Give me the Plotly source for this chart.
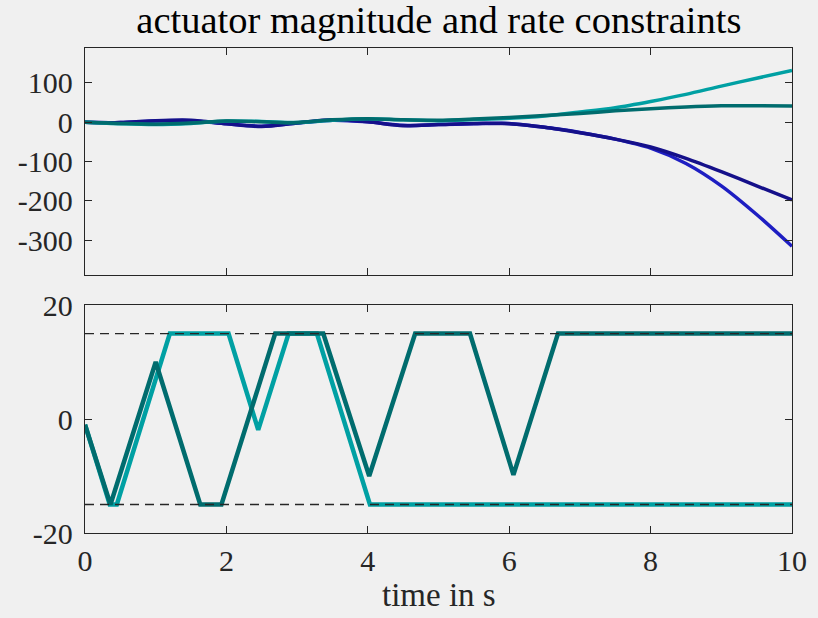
import plotly.graph_objects as go

# ---- upper panel: actuator magnitudes (sampled every 0.5 s) ----
t_mag = [0.0, 0.5, 1.0, 1.5, 2.0, 2.5, 3.0, 3.5, 4.0, 4.5, 5.0,
         5.5, 6.0, 6.5, 7.0, 7.5, 8.0, 8.5, 9.0, 9.5, 10.0]
u_navy = [0, -1, 4, 5, -4, -11, -2, 6, 1, -9, -6,
          -3, -4, -13, -27, -43, -63, -92, -126, -162, -198]
u_blue = [0, -1, 3, 4, -4, -10, -2, 5, 1, -8, -6,
          -4, -3, -13, -26, -43, -66, -105, -162, -235, -316]
u_dteal = [0, -3, -5, -2, 3, 1, -1, 6, 9, 6, 5,
           8, 12, 17, 22, 29, 34, 39, 42, 42, 41]
u_lteal = [0, -4, -6, -3, 3, 2, -1, 5, 9, 6, 4,
           7, 10, 16, 26, 37, 53, 71, 92, 112, 132]

# ---- lower panel: rate-limited actuator signals (breakpoints) ----
t_dteal = [0.0, 0.36, 1.0, 1.63, 1.93, 2.69, 3.37, 4.02, 4.67, 5.445, 6.06, 6.69, 10.0]
r_dteal = [-1, -15, 10, -15, -15, 15, 15, -10, 15, 15, -9.8, 15, 15]
t_lteal = [0.0, 0.35, 0.45, 1.20, 2.03, 2.45, 2.88, 3.28, 4.03, 10.0]
r_lteal = [-1, -15, -15, 15, 15, -1.9, 15, 15, -15, -15]

limit_t = [0, 10]
limit_hi = [15, 15]
limit_lo = [-15, -15]

# axis ticks
x_ticks = [0, 2, 4, 6, 8, 10]
y1_ticks = [100, 0, -100, -200, -300]
y1_text = ["100", "0", "-100", "-200", "-300"]
y2_ticks = [20, 0, -20]
y2_text = ["20", "0", "-20"]

NAVY = "#15108a"
BLUE = "#1e1ec2"
DTEAL = "#006c6e"
LTEAL = "#00a0a3"
INK = "#262626"
BG = "#f0f0f0"
FONT = "Liberation Serif"

fig = go.Figure()

for y, c in [(u_blue, BLUE), (u_navy, NAVY), (u_lteal, LTEAL), (u_dteal, DTEAL)]:
    fig.add_trace(go.Scatter(x=t_mag, y=y, mode="lines",
                             line=dict(color=c, width=3.5, shape="spline", smoothing=0.8),
                             xaxis="x", yaxis="y", showlegend=False))

fig.add_trace(go.Scatter(x=t_lteal, y=r_lteal, mode="lines",
                         line=dict(color=LTEAL, width=4.5),
                         xaxis="x2", yaxis="y2", showlegend=False))
fig.add_trace(go.Scatter(x=t_dteal, y=r_dteal, mode="lines",
                         line=dict(color=DTEAL, width=4.5),
                         xaxis="x2", yaxis="y2", showlegend=False))
for lim in (limit_hi, limit_lo):
    fig.add_trace(go.Scatter(x=limit_t, y=lim, mode="lines",
                             line=dict(color=INK, width=1.3, dash="9px,6px"),
                             xaxis="x2", yaxis="y2", showlegend=False))

axis_common = dict(showline=True, linecolor=INK, linewidth=1.3, mirror="ticks",
                   ticks="inside", ticklen=7, tickwidth=1.3, tickcolor=INK,
                   showgrid=False, zeroline=False,
                   tickfont=dict(family=FONT, size=30, color=INK))

fig.update_layout(
    width=818, height=618,
    margin=dict(l=85, r=26, t=48, b=85),
    paper_bgcolor=BG, plot_bgcolor=BG,
    title=dict(text="actuator magnitude and rate constraints",
               x=0.5365, xanchor="center", y=1 - 20 / 618, yanchor="middle",
               font=dict(family=FONT, size=38.5, color="#000000")),
    xaxis=dict(domain=[0, 1], range=[0, 10], tickvals=x_ticks,
               showticklabels=False, anchor="y", **axis_common),
    yaxis=dict(domain=[0.532, 1], range=[-389, 189], tickvals=y1_ticks,
               ticktext=y1_text, anchor="x", ticklabelstandoff=5, **axis_common),
    xaxis2=dict(domain=[0, 1], range=[0, 10], tickvals=x_ticks,
                anchor="y2", ticklabelstandoff=1, **axis_common),
    yaxis2=dict(domain=[0, 0.470], range=[-20, 20], tickvals=y2_ticks,
                ticktext=y2_text, anchor="x2", ticklabelstandoff=5, **axis_common),
    annotations=[dict(text="time in s", xref="paper", yref="paper",
                      x=0.5, y=-(595 - 533) / 485, xanchor="center", yanchor="middle",
                      showarrow=False, borderpad=0,
                      font=dict(family=FONT, size=33, color=INK))],
)

fig.write_html("out.html")
